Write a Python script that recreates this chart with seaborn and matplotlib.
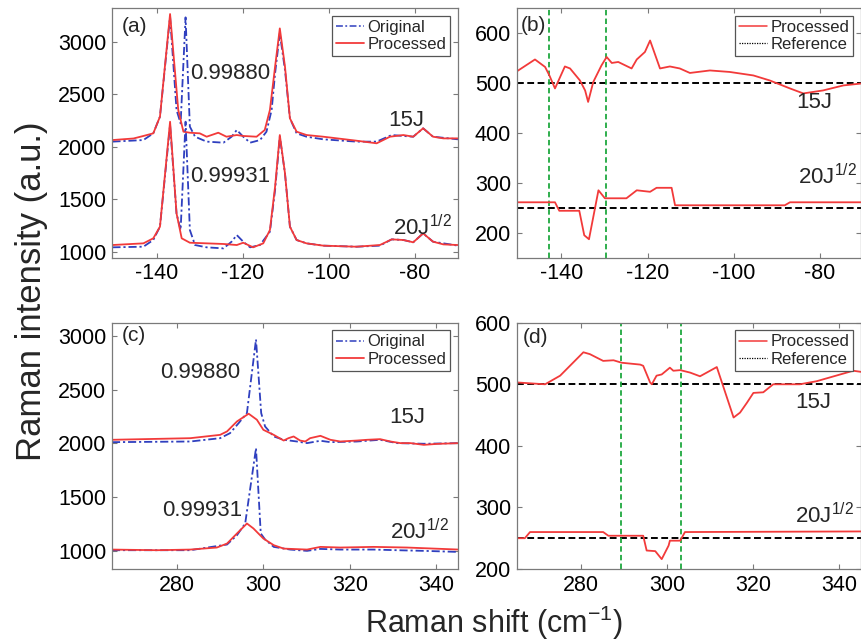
import numpy as np
import pandas as pd
import matplotlib
matplotlib.use("Agg")
import matplotlib.pyplot as plt
from matplotlib.lines import Line2D
import seaborn as sns

# ---------------- data ----------------
# (a) low-wavenumber region, 15J trace (upper) and 20J^1/2 trace (lower)
a_orig_hi_x = [-150.3, -143.1, -140.8, -139.25, -136.9, -135.4, -134.45, -133.3, -132.3, -131.1,
               -128.4, -124.5, -122.6, -121.4, -119.9, -118.3, -116.0, -114.5, -113.3, -112.5,
               -111.4, -110.2, -109.05, -107.5, -105.2, -101.3, -93.6, -88.9, -85.4, -82.7,
               -80.4, -78.1, -75.8, -70.0]
a_orig_hi_y = [2050, 2065, 2129, 2288, 3242, 2352, 2224, 3235, 2193, 2097,
               2050, 2040, 2097, 2161, 2097, 2040, 2065, 2145, 2352, 2701,
               3083, 2733, 2272, 2129, 2097, 2072, 2050, 2050, 2113, 2104,
               2097, 2177, 2097, 2072]
a_proc_hi_x = [-150.3, -145.4, -143.1, -140.8, -139.25, -136.9, -135.0, -133.8, -132.3, -130.0,
               -128.4, -125.7, -123.8, -121.4, -119.9, -116.8, -114.9, -113.7, -112.5, -111.4,
               -110.2, -109.05, -107.5, -105.2, -101.3, -93.6, -88.9, -85.8, -82.7, -80.4,
               -78.1, -75.8, -73.4, -70.0]
a_proc_hi_y = [2065, 2080, 2104, 2129, 2288, 3267, 2352, 2145, 2135, 2129,
               2097, 2135, 2097, 2113, 2104, 2097, 2161, 2352, 2765, 3130,
               2765, 2272, 2145, 2113, 2097, 2059, 2034, 2097, 2113, 2097,
               2177, 2097, 2081, 2081]
a_orig_lo_x = [-150.3, -143.1, -140.8, -139.25, -136.9, -135.4, -134.45, -133.3, -132.3, -131.1,
               -128.4, -124.5, -122.6, -121.4, -119.9, -118.3, -116.0, -113.7, -112.5, -111.4,
               -110.2, -109.05, -107.5, -105.2, -101.3, -93.6, -88.15, -85.4, -82.7, -80.4,
               -78.1, -75.8, -70.0]
a_orig_lo_y = [1042, 1048, 1112, 1239, 2209, 1366, 1207, 2240, 1207, 1064,
               1042, 1032, 1096, 1159, 1096, 1042, 1064, 1191, 1589, 2097,
               1748, 1239, 1112, 1080, 1058, 1048, 1058, 1118, 1112, 1090,
               1175, 1096, 1058]
a_proc_lo_x = [-150.3, -143.1, -140.8, -139.25, -136.9, -135.4, -134.2, -132.3, -128.4, -124.5,
               -121.4, -119.9, -117.6, -115.25, -113.7, -112.5, -111.4, -110.2, -109.05, -107.5,
               -105.2, -101.3, -93.6, -88.15, -85.4, -82.7, -80.4, -78.1, -75.8, -73.4,
               -70.0]
a_proc_lo_y = [1064, 1080, 1128, 1239, 2240, 1366, 1128, 1086, 1080, 1074,
               1064, 1086, 1042, 1080, 1207, 1620, 2113, 1748, 1239, 1112,
               1080, 1058, 1048, 1064, 1118, 1112, 1090, 1175, 1096, 1070,
               1064]

# (b) deviation curves for the low-wavenumber region
b_proc_hi_x = [-150.4, -146.15, -143.8, -142.8, -141.5, -139.2, -138.0, -135.7, -134.5, -133.8,
               -132.6, -130.7, -129.5, -128.3, -126.8, -123.7, -122.5, -120.6, -119.4, -117.1,
               -114.8, -112.5, -110.15, -105.5, -100.9, -95.4, -91.6, -86.9, -83.8, -79.2,
               -74.5, -70.2]
b_proc_hi_y = [523, 547, 532, 515, 489, 533, 529, 505, 485, 462,
               502, 535, 552, 540, 542, 529, 547, 562, 585, 529,
               533, 529, 520, 525, 522, 515, 505, 489, 479, 485,
               495, 499]
b_proc_lo_x = [-150.4, -141.5, -140.5, -135.85, -134.7, -133.6, -131.4, -129.9, -124.9, -122.5,
               -119.4, -117.9, -114.4, -113.6, -88.1, -86.9, -70.2]
b_proc_lo_y = [261, 261, 244, 244, 195, 187, 285, 269, 269, 285,
               282, 290, 290, 255, 255, 261, 261]
b_ref_levels = [500, 250]
b_marks = [-142.8, -129.7]

# (c) high-wavenumber region
c_orig_hi_x = [265.0, 283.1, 290.0, 292.3, 294.3, 296.2, 298.3, 299.5, 300.4, 302.4,
               304.7, 307.8, 310.1, 313.2, 315.5, 321.6, 327.0, 330.9, 337.1, 345.2]
c_orig_hi_y = [2012, 2018, 2049, 2096, 2190, 2283, 2969, 2283, 2158, 2065,
               2034, 2018, 2003, 2025, 2012, 2018, 2034, 2003, 1997, 2003]
c_proc_hi_x = [265.0, 283.1, 290.0, 291.6, 293.9, 296.6, 298.5, 300.0, 302.4, 304.7,
               305.8, 307.0, 308.5, 309.7, 310.8, 313.2, 315.5, 317.8, 321.6, 324.0,
               327.0, 329.4, 331.7, 334.0, 337.1, 340.2, 345.2]
c_proc_hi_y = [2034, 2049, 2080, 2112, 2205, 2277, 2221, 2127, 2080, 2027,
               2049, 2065, 2027, 2018, 2049, 2071, 2034, 2018, 2027, 2034,
               2040, 2018, 2003, 2003, 1987, 1996, 2003]
c_orig_lo_x = [265.0, 283.1, 291.6, 293.9, 295.8, 298.3, 299.4, 300.4, 302.4, 306.2,
               310.1, 313.2, 317.8, 325.5, 330.9, 337.1, 345.2]
c_orig_lo_y = [1005, 1005, 1058, 1145, 1254, 1956, 1161, 1105, 1036, 1011,
               999, 1017, 1011, 1011, 1005, 999, 989]
c_proc_lo_x = [265.0, 275.4, 283.1, 289.25, 291.6, 293.9, 296.2, 297.7, 300.0, 302.4,
               304.7, 310.1, 313.2, 317.8, 325.5, 333.2, 345.2]
c_proc_lo_y = [1011, 1005, 1011, 1030, 1067, 1161, 1254, 1208, 1114, 1052,
               1020, 1011, 1036, 1030, 1036, 1030, 1011]

# (d) deviation curves for the high-wavenumber region
d_proc_hi_x = [265.0, 271.6, 275.1, 280.5, 282.0, 285.1, 287.5, 289.4, 293.7, 294.4,
               296.0, 296.4, 297.5, 298.7, 300.6, 301.4, 303.0, 305.3, 307.6, 311.5,
               315.4, 316.9, 318.5, 320.0, 322.3, 324.6, 330.8, 334.7, 343.2, 345.2]
d_proc_hi_y = [503, 500, 514, 552, 549, 538, 539, 535, 532, 530,
               503, 500, 514, 516, 527, 522, 523, 519, 513, 528,
               446, 454, 470, 486, 487, 500, 500, 505, 522, 520]
d_proc_lo_x = [265.0, 266.9, 268.1, 285.1, 286.3, 294.4, 295.2, 297.2, 298.7, 300.3,
               300.6, 303.0, 304.1, 345.2]
d_proc_lo_y = [250, 250, 260, 260, 254, 254, 230, 229, 216, 238,
               246, 246, 260, 261]
d_ref_levels = [500, 250]
d_marks = [289.2, 303.1]

legend_left = ["Original", "Processed"]
legend_right = ["Processed", "Reference"]
corr_labels = ["0.99880", "0.99931"]
trace_labels = ["15J", "20J$^{1/2}$"]
panel_tags = ["(a)", "(b)", "(c)", "(d)"]

# ---------------- style ----------------
sns.set_theme(style="white")
plt.rcParams["font.family"] = ["Liberation Sans", "DejaVu Sans"]
plt.rcParams["mathtext.fontset"] = "custom"
plt.rcParams["mathtext.rm"] = "Liberation Sans"
plt.rcParams["mathtext.it"] = "Liberation Sans"
plt.rcParams["mathtext.default"] = "regular"
plt.rcParams["axes.unicode_minus"] = False

RED = "#f23a3a"
BLUE = "#2f3fbf"
GREEN = "#1fa83f"
FRAME = "#7a7a7a"
DASHDOT = (0, (4.5, 1.6, 1.2, 1.6))

fig = plt.figure(figsize=(8.62, 6.43), dpi=100)
ax_a = fig.add_axes([0.1299, 0.5992, 0.4014, 0.3883])
ax_b = fig.add_axes([0.5994, 0.5992, 0.3994, 0.3883])
ax_c = fig.add_axes([0.1299, 0.1151, 0.4014, 0.3830])
ax_d = fig.add_axes([0.5994, 0.1151, 0.3994, 0.3830])


def trace(ax, xs, ys, **kw):
    df = pd.DataFrame({"x": xs, "y": ys})
    sns.lineplot(data=df, x="x", y="y", ax=ax, estimator=None, sort=False, **kw)


def frame(ax, xlim, ylim, xticks, yticks):
    ax.set_xlim(*xlim)
    ax.set_ylim(*ylim)
    ax.set_xticks(xticks)
    ax.set_yticks(yticks)
    ax.set_xlabel("")
    ax.set_ylabel("")
    for s in ax.spines.values():
        s.set_visible(True)
        s.set_color(FRAME)
        s.set_linewidth(0.9)
    ax.tick_params(direction="in", length=3.5, width=0.8, color=FRAME,
                   top=True, right=True, bottom=True, left=True,
                   labelsize=15.5, pad=4, labelcolor="black")


# (a)
trace(ax_a, a_orig_hi_x, a_orig_hi_y, color=BLUE, lw=1.3, linestyle=DASHDOT)
trace(ax_a, a_proc_hi_x, a_proc_hi_y, color=RED, lw=1.3)
trace(ax_a, a_orig_lo_x, a_orig_lo_y, color=BLUE, lw=1.3, linestyle=DASHDOT)
trace(ax_a, a_proc_lo_x, a_proc_lo_y, color=RED, lw=1.3)
frame(ax_a, (-150.4, -70), (943, 3324), [-140, -120, -100, -80], [1000, 1500, 2000, 2500, 3000])
ax_a.text(-132.3, 2700, corr_labels[0], fontsize=16, va="center", ha="left")
ax_a.text(-132.3, 1717, corr_labels[1], fontsize=16, va="center", ha="left")
ax_a.text(-86.3, 2256, trace_labels[0], fontsize=16, va="center", ha="left")
ax_a.text(-85.1, 1226, trace_labels[1], fontsize=16, va="center", ha="left")

# (b)
for lvl in b_ref_levels:
    ax_b.axhline(lvl, color="black", lw=1.4, linestyle=(0, (3.5, 1.8)))
for m in b_marks:
    ax_b.axvline(m, color=GREEN, lw=1.3, linestyle=(0, (3, 1.8)))
trace(ax_b, b_proc_hi_x, b_proc_hi_y, color=RED, lw=1.3)
trace(ax_b, b_proc_lo_x, b_proc_lo_y, color=RED, lw=1.3)
frame(ax_b, (-150.4, -70.4), (150, 650), [-140, -120, -100, -80], [200, 300, 400, 500, 600])
ax_b.text(-85.4, 461, trace_labels[0], fontsize=16, va="center", ha="left")
ax_b.text(-85.0, 312, trace_labels[1], fontsize=16, va="center", ha="left")

# (c)
trace(ax_c, c_orig_hi_x, c_orig_hi_y, color=BLUE, lw=1.3, linestyle=DASHDOT)
trace(ax_c, c_proc_hi_x, c_proc_hi_y, color=RED, lw=1.3)
trace(ax_c, c_orig_lo_x, c_orig_lo_y, color=BLUE, lw=1.3, linestyle=DASHDOT)
trace(ax_c, c_proc_lo_x, c_proc_lo_y, color=RED, lw=1.3)
frame(ax_c, (265, 345), (830, 3125), [280, 300, 320, 340], [1000, 1500, 2000, 2500, 3000])
ax_c.text(276.1, 2660, corr_labels[0], fontsize=16, va="center", ha="left")
ax_c.text(276.5, 1379, corr_labels[1], fontsize=16, va="center", ha="left")
ax_c.text(329.2, 2244, trace_labels[0], fontsize=16, va="center", ha="left")
ax_c.text(329.2, 1176, trace_labels[1], fontsize=16, va="center", ha="left")

# (d)
for lvl in d_ref_levels:
    ax_d.axhline(lvl, color="black", lw=1.4, linestyle=(0, (3.5, 1.8)))
for m in d_marks:
    ax_d.axvline(m, color=GREEN, lw=1.3, linestyle=(0, (3, 1.8)))
trace(ax_d, d_proc_hi_x, d_proc_hi_y, color=RED, lw=1.3)
trace(ax_d, d_proc_lo_x, d_proc_lo_y, color=RED, lw=1.3)
frame(ax_d, (265, 345), (200, 600), [280, 300, 320, 340], [200, 300, 400, 500, 600])
ax_d.text(329.7, 471, trace_labels[0], fontsize=16, va="center", ha="left")
ax_d.text(329.7, 287, trace_labels[1], fontsize=16, va="center", ha="left")

# panel tags
for ax, tag, (tx, ty) in zip([ax_a, ax_b, ax_c, ax_d], panel_tags,
                             [(0.029, 0.928), (0.012, 0.932), (0.029, 0.95), (0.018, 0.94)]):
    ax.text(tx, ty, tag, transform=ax.transAxes, fontsize=15, va="center", ha="left")

# legends
left_handles = [Line2D([], [], color=BLUE, lw=1.1, linestyle=DASHDOT),
                Line2D([], [], color=RED, lw=1.3)]
right_handles = [Line2D([], [], color=RED, lw=1.1),
                 Line2D([], [], color="black", lw=0.9, linestyle=(0, (1, 1)))]
leg_kw = dict(loc="upper right", fontsize=12, frameon=True, fancybox=False, framealpha=1,
              edgecolor="#555555", handlelength=1.7, handletextpad=0.2, borderpad=0.25,
              labelspacing=0.15, borderaxespad=0.45)
for ax in (ax_a, ax_c):
    lg = ax.legend(left_handles, legend_left, **leg_kw)
    lg.get_frame().set_linewidth(0.9)
for ax in (ax_b, ax_d):
    lg = ax.legend(right_handles, legend_right, **leg_kw)
    lg.get_frame().set_linewidth(0.9)

fig.text(0.037, 0.547, "Raman intensity (a.u.)", rotation=90, fontsize=25, va="center", ha="center")
fig.text(0.573, 0.031, "Raman shift (cm$^{\\mathregular{-1}}$)", fontsize=22, va="center", ha="center")

fig.savefig("out.png", dpi=100)
